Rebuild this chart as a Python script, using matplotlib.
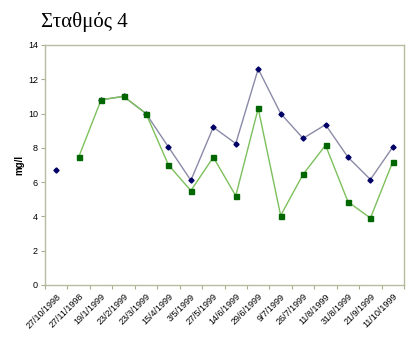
import matplotlib
matplotlib.use("Agg")
import matplotlib.pyplot as plt
import numpy as np

plt.rcParams["font.family"] = ["Liberation Sans", "DejaVu Sans"]

dates = ["27/10/1998", "27/11/1998", "19/1/1999", "23/2/1999", "23/3/1999",
         "15/4/1999", "3/5/1999", "27/5/1999", "14/6/1999", "29/6/1999",
         "9/7/1999", "26/7/1999", "11/8/1999", "31/8/1999", "21/9/1999", "11/10/1999"]
series_blue = [6.7, np.nan, 10.8, 11.0, 10.0, 8.05, 6.1, 9.2, 8.25, 12.6,
               10.0, 8.55, 9.35, 7.45, 6.15, 8.05]
series_green = [np.nan, 7.45, 10.8, 11.0, 10.0, 7.0, 5.5, 7.45, 5.2, 10.3,
                4.05, 6.45, 8.15, 4.85, 3.9, 7.2]

fig = plt.figure(figsize=(4.09, 3.38), dpi=100)
ax = fig.add_axes([0.110, 0.157, 0.878, 0.710])
x = np.arange(len(dates))

ax.plot(x, series_blue, color="#8a8aa8", lw=1.0, marker="D", ms=2.6,
        mfc="#000066", mec="#000066", zorder=3)
ax.plot(x, series_green, color="#7cc05c", lw=1.0, marker="s", ms=3.6,
        mfc="#006600", mec="#006600", zorder=4)

ax.set_xlim(-0.5, len(dates) - 0.5)
ax.set_ylim(0, 14)
ax.set_yticks(np.arange(0, 15, 2))
ax.set_xticks(np.arange(-0.5, len(dates), 1), minor=False)
ax.set_xticklabels([])
ax.set_xticks(x, minor=True)
ax.set_xticklabels(dates, minor=True, rotation=45, ha="right", va="top",
                   fontsize=6.5, rotation_mode="anchor")
ax.tick_params(axis="x", which="minor", length=0, pad=5)
ax.tick_params(axis="x", which="major", length=3, color="#a8ae90")
ax.tick_params(axis="y", length=3, color="#a8ae90", labelsize=6.5, pad=2)
for s in ax.spines.values():
    s.set_color("#b8bca0")
    s.set_linewidth(1.0)
ax.set_ylabel("mg/l", fontsize=7, fontweight="bold", labelpad=3)

fig.text(0.10, 0.935, "Σταθμός 4", family="Liberation Serif", fontsize=15,
         ha="left", va="center")

fig.savefig("out.png", dpi=100)
